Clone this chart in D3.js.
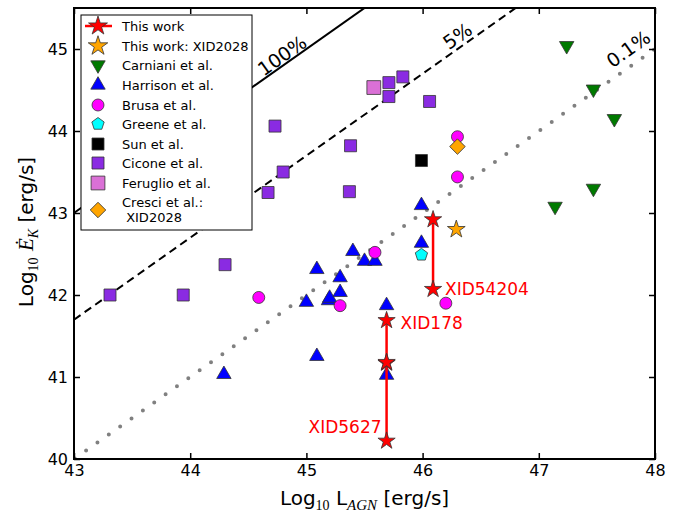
<!DOCTYPE html>
<html>
<head>
<meta charset="utf-8">
<script src="https://cdn.jsdelivr.net/npm/d3@7"></script>
<style>
html,body{margin:0;padding:0;background:#fff;}
svg{display:block;}
text{font-family:"DejaVu Sans",sans-serif;}
</style>
</head>
<body>
<svg id="chart" width="691" height="514"></svg>
<script>
// ---------------- DATA ----------------
const xTicks = [43, 44, 45, 46, 47, 48];
const yTicks = [40, 41, 42, 43, 44, 45];

// This work: vertical ranges
const thisWorkNames = ["XID54204", "XID178", "XID5627"];
const thisWorkX     = [46.09, 45.69, 45.69];
const thisWorkYHigh = [42.92, 41.69, 41.18];
const thisWorkYLow  = [42.07, 41.17, 40.22];

const xid2028 = [[46.29, 42.80]];

const carniani = [[47.24, 45.04], [47.47, 44.51], [47.65, 44.15], [47.47, 43.30], [47.14, 43.08]];
const harrison = [[45.99, 43.08], [45.40, 42.52], [45.09, 42.30], [45.50, 42.40], [45.59, 42.40],
                  [45.29, 42.20], [45.99, 42.62], [45.00, 41.90], [45.19, 41.92], [45.20, 41.95],
                  [45.29, 42.02], [45.69, 41.86], [45.09, 41.24], [45.69, 41.01], [44.29, 41.02]];
const brusa    = [[46.30, 43.93], [46.30, 43.44], [45.59, 42.52], [45.29, 41.87], [46.20, 41.90], [44.59, 41.97]];
const greene   = [[45.99, 42.49]];
const sun      = [[45.99, 43.64]];
const cicone   = [[44.67, 43.25], [44.80, 43.50], [44.73, 44.06], [45.38, 43.82], [45.37, 43.26],
                  [45.71, 44.59], [45.71, 44.42], [45.83, 44.66], [46.06, 44.36],
                  [43.31, 42.00], [43.94, 42.00], [44.30, 42.37]];
const feruglio = [[45.58, 44.53]];
const cresci   = [[46.30, 43.81]];

// Ratio lines: E_K = ratio * L_AGN
const ratioLabels = ["100%", "5%", "0.1%"];
const ratioValues = [1, 0.05, 0.001];
const ratioLabelX = [44.79, 46.30, 47.77];
const ratioLabelY = [44.92, 45.16, 45.00];

const legendLabels = ["This work", "This work: XID2028", "Carniani et al.", "Harrison et al.",
  "Brusa et al.", "Greene et al.", "Sun et al.", "Cicone et al.", "Feruglio et al.", "Cresci et al.:\n XID2028"];

// ---------------- CHART ----------------
const svg = d3.select("#chart");
const L = 74, R = 655, T = 8, B = 459;
const x = d3.scaleLinear().domain([43, 48]).range([L, R]);
const y = d3.scaleLinear().domain([40, 45.5]).range([B, T]);

svg.append("rect").attr("width", 691).attr("height", 514).attr("fill", "#fff");

svg.append("defs").append("clipPath").attr("id", "clip")
  .append("rect").attr("x", L).attr("y", T).attr("width", R - L).attr("height", B - T);

const plot = svg.append("g").attr("clip-path", "url(#clip)");

// ratio lines
const lineStyles = [
  {stroke: "#000", width: 2, dash: null},
  {stroke: "#000", width: 2, dash: "8,5"},
  {stroke: "#808080", width: 4, dash: "0,13.9", cap: "round", offset: 13}
];
ratioValues.forEach((r, i) => {
  const off = Math.log10(r);
  const st = lineStyles[i];
  const p = plot.append("path")
    .attr("d", d3.line()([[x(43), y(43 + off)], [x(48), y(48 + off)]]))
    .attr("fill", "none").attr("stroke", st.stroke).attr("stroke-width", st.width);
  if (st.dash) p.attr("stroke-dasharray", st.dash);
  if (st.cap) p.attr("stroke-linecap", st.cap);
  if (st.offset) p.attr("stroke-dashoffset", st.offset);
});

// angle of 1:1 slope in pixel space
const ang = Math.atan2(y(1) - y(0), x(44) - x(43)) * 180 / Math.PI;
ratioLabels.forEach((lab, i) => {
  const px = x(ratioLabelX[i]), py = y(ratioLabelY[i]);
  svg.append("text")
    .attr("transform", `translate(${px},${py}) rotate(${ang})`)
    .attr("text-anchor", "middle").attr("dy", "0.36em")
    .attr("font-size", 19).attr("fill", "#000")
    .text(lab);
});

// markers
const edge = "#333";
function sym(type, size) { return d3.symbol().type(type).size(size)(); }
const pentagon = {
  draw(ctx, size) {
    const r = Math.sqrt(size / 2.378);
    for (let k = 0; k < 5; k++) {
      const a = -Math.PI / 2 + k * 2 * Math.PI / 5;
      const px = r * Math.cos(a), py = r * Math.sin(a);
      if (k === 0) ctx.moveTo(px, py); else ctx.lineTo(px, py);
    }
    ctx.closePath();
  }
};
const styles = {
  carniani: {path: sym(d3.symbolTriangle, 90), rot: 180, fill: "#007a00"},
  harrison: {path: sym(d3.symbolTriangle, 90), rot: 0, fill: "#0000ff", dy: -1},
  brusa:    {path: sym(d3.symbolCircle, 113), rot: 0, fill: "#ff00ff"},
  greene:   {path: sym(pentagon, 100), rot: 0, fill: "#00ffff"},
  sun:      {path: sym(d3.symbolSquare, 144), rot: 0, fill: "#000000"},
  cicone:   {path: sym(d3.symbolSquare, 144), rot: 0, fill: "#8a2be2"},
  feruglio: {path: sym(d3.symbolSquare, 190), rot: 0, fill: "#da70d6"},
  cresci:   {path: sym(d3.symbolSquare, 120), rot: 45, fill: "#ffa500"},
  star:     {path: sym(d3.symbolStar, 92), rot: 0, fill: "#ff0000"},
  star2:    {path: sym(d3.symbolStar, 98), rot: 0, fill: "#ffa500"}
};

function drawPts(data, st) {
  svg.append("g").selectAll("path").data(data).join("path")
    .attr("d", st.path)
    .attr("transform", d => `translate(${x(d[0])},${y(d[1]) + (st.dy || 0)}) rotate(${st.rot})`)
    .attr("fill", st.fill).attr("stroke", edge).attr("stroke-width", 0.8);
}
drawPts(carniani, styles.carniani);
drawPts(harrison, styles.harrison);
drawPts(brusa, styles.brusa);
drawPts(greene, styles.greene);
drawPts(sun, styles.sun);
drawPts(cicone, styles.cicone);
drawPts(feruglio, styles.feruglio);
drawPts(cresci, styles.cresci);

// this work
const tw = thisWorkNames.map((n, i) => ({name: n, x: thisWorkX[i], hi: thisWorkYHigh[i], lo: thisWorkYLow[i]}));
svg.append("g").selectAll("line").data(tw).join("line")
  .attr("x1", d => x(d.x)).attr("x2", d => x(d.x))
  .attr("y1", d => y(d.hi)).attr("y2", d => y(d.lo))
  .attr("stroke", "#ff0000").attr("stroke-width", 2.5);
const twPts = [];
tw.forEach(d => { twPts.push([d.x, d.hi]); twPts.push([d.x, d.lo]); });
drawPts(twPts, styles.star);
drawPts(xid2028, styles.star2);

// labels for this work
const twLabelPos = [
  {x: x(46.09) + 12, y: y(42.07) + 6, anchor: "start"},
  {x: x(45.69) + 14, y: y(41.69) + 9, anchor: "start"},
  {x: x(45.69) - 5, y: y(40.22) - 8, anchor: "end"}
];
tw.forEach((d, i) => {
  svg.append("text").attr("x", twLabelPos[i].x).attr("y", twLabelPos[i].y)
    .attr("text-anchor", twLabelPos[i].anchor)
    .attr("font-size", 17).attr("fill", "#ff0000").text(d.name);
});

// axes (ticks inward)
const axG = svg.append("g").attr("font-size", 16);
axG.append("g").attr("transform", `translate(0,${B})`)
  .call(d3.axisBottom(x).tickValues(xTicks).tickSize(-6).tickPadding(6).tickFormat(d3.format("d")));
axG.append("g").attr("transform", `translate(0,${T})`)
  .call(d3.axisTop(x).tickValues(xTicks).tickSize(-6).tickFormat(""));
axG.append("g").attr("transform", `translate(${L},0)`)
  .call(d3.axisLeft(y).tickValues(yTicks).tickSize(-6).tickPadding(6).tickFormat(d3.format("d")));
axG.append("g").attr("transform", `translate(${R},0)`)
  .call(d3.axisRight(y).tickValues(yTicks).tickSize(-6).tickFormat(""));
axG.selectAll(".domain").remove();
axG.selectAll(".tick line").attr("stroke", "#000").attr("stroke-width", 1.5);
axG.selectAll(".tick text").attr("fill", "#000").attr("font-family", "DejaVu Sans").attr("font-size", 16);

// frame
svg.append("rect").attr("x", L).attr("y", T).attr("width", R - L).attr("height", B - T)
  .attr("fill", "none").attr("stroke", "#000").attr("stroke-width", 2);

// axis labels
const xl = svg.append("text").attr("x", (L + R) / 2).attr("y", 505)
  .attr("text-anchor", "middle").attr("font-size", 20).attr("fill", "#000");
xl.append("tspan").text("Log");
xl.append("tspan").attr("font-family", "Liberation Serif").attr("font-size", 14).attr("dy", 5).text("10");
xl.append("tspan").attr("dy", -5).text(" L");
xl.append("tspan").attr("font-family", "Liberation Serif").attr("font-style", "italic").attr("font-size", 15).attr("dy", 5).text("AGN");
xl.append("tspan").attr("dy", -5).text(" [erg/s]");

const yl = svg.append("text").attr("transform", `translate(33,232) rotate(-90)`)
  .attr("text-anchor", "middle").attr("font-size", 20).attr("fill", "#000");
yl.append("tspan").text("Log");
yl.append("tspan").attr("font-family", "Liberation Serif").attr("font-size", 14).attr("dy", 5).text("10");
yl.append("tspan").attr("dy", -5).text(" ");
yl.append("tspan").attr("font-family", "Liberation Serif").attr("font-style", "italic").attr("font-size", 21).text("\u0116");
yl.append("tspan").attr("font-family", "Liberation Serif").attr("font-style", "italic").attr("font-size", 14).attr("dy", 5).text("K");
yl.append("tspan").attr("dy", -5).text(" [erg/s]");

// legend
const lg = svg.append("g");
lg.append("rect").attr("x", 81).attr("y", 15).attr("width", 171).attr("height", 215)
  .attr("fill", "#fff").attr("stroke", "#000").attr("stroke-width", 1);
const legStyles = [styles.star, styles.star2, styles.carniani, styles.harrison, styles.brusa,
  styles.greene, styles.sun, styles.cicone, styles.feruglio, styles.cresci];
const legY = [26, 46, 65, 85, 105, 124, 144, 163, 183, 210];
const mx = 98, tx = 122;
lg.append("line").attr("x1", 85).attr("x2", 112).attr("y1", legY[0]).attr("y2", legY[0])
  .attr("stroke", "#ff0000").attr("stroke-width", 2.5);
legendLabels.forEach((lab, i) => {
  const st = legStyles[i];
  const sc = (i < 2) ? 1.1 : 1;
  lg.append("path").attr("d", st.path)
    .attr("transform", `translate(${mx},${legY[i]}) rotate(${st.rot}) scale(${sc})`)
    .attr("fill", st.fill).attr("stroke", edge).attr("stroke-width", 0.8 / sc);
  const lines = lab.split("\n");
  const t = lg.append("text").attr("x", tx).attr("font-size", 13).attr("fill", "#000")
    .attr("y", legY[i] + 5 - (lines.length - 1) * 8);
  lines.forEach((ln, k) => {
    t.append("tspan").attr("x", tx).attr("dy", k === 0 ? 0 : 15).attr("xml:space", "preserve").text(ln);
  });
});
</script>
</body>
</html>
